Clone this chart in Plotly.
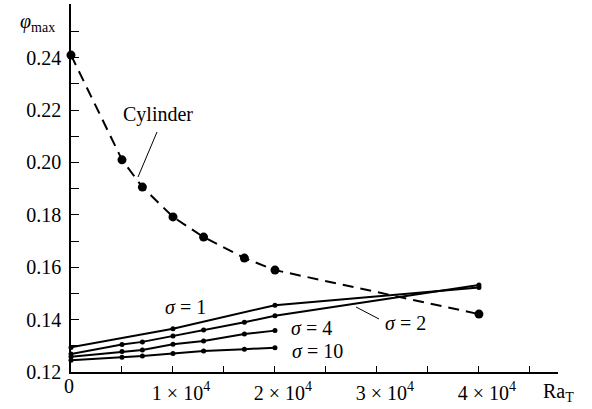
import plotly.graph_objects as go

# Data
ra_cyl = [0, 5000, 7000, 10000, 13000, 17000, 20000, 40000]
phi_cyl = [0.241, 0.201, 0.1906, 0.1792, 0.1715, 0.1635, 0.1589, 0.1421]

ra_s1 = [0, 10000, 20000, 40000]
phi_s1 = [0.1294, 0.1365, 0.1455, 0.1523]

ra_s = [0, 5000, 7000, 10000, 13000, 17000, 20000]
ra_s2 = ra_s + [40000]
phi_s2 = [0.1269, 0.1305, 0.1315, 0.1337, 0.1360, 0.1390, 0.1415, 0.1532]
phi_s4 = [0.1258, 0.1278, 0.1284, 0.1306, 0.1318, 0.1345, 0.1358]
phi_s10 = [0.1245, 0.1256, 0.1261, 0.1271, 0.1280, 0.1287, 0.1293]

x_ticks = [0, 5000, 10000, 15000, 20000, 25000, 30000, 35000, 40000, 45000]
x_labels = ["", "", "1 × 10<sup>4</sup>", "", "2 × 10<sup>4</sup>", "",
            "3 × 10<sup>4</sup>", "", "4 × 10<sup>4</sup>", ""]
y_ticks = [0.12, 0.13, 0.14, 0.15, 0.16, 0.17, 0.18, 0.19, 0.20, 0.21, 0.22, 0.23, 0.24, 0.25]
y_labels = ["0.12", "", "0.14", "", "0.16", "", "0.18", "", "0.20", "", "0.22", "", "0.24", ""]

FONT = "Liberation Serif, Times New Roman, serif"
FS = 20

W, H = 592, 409
L, R, T, B = 71, 34, 4, 37
PW, PH = W - L - R, H - T - B


def px(x):
    return (x - L) / PW


def py(y):
    return (H - B - y) / PH


fig = go.Figure()

fig.add_trace(go.Scatter(x=ra_cyl, y=phi_cyl, mode="lines+markers",
                         line=dict(color="black", width=2, dash="11px,7px"),
                         marker=dict(color="black", size=9), cliponaxis=False))
for xs, ys in [(ra_s1, phi_s1), (ra_s2, phi_s2), (ra_s, phi_s4), (ra_s, phi_s10)]:
    fig.add_trace(go.Scatter(x=xs, y=ys, mode="lines+markers",
                             line=dict(color="black", width=2),
                             marker=dict(color="black", size=5), cliponaxis=False))

fig.update_layout(
    width=W, height=H,
    margin=dict(l=L, r=R, t=T, b=B, autoexpand=False),
    plot_bgcolor="white", paper_bgcolor="white",
    showlegend=False,
    font=dict(family=FONT, size=FS, color="black"),
    xaxis=dict(range=[0, 47750], showline=True, linecolor="black", linewidth=1.5,
               showgrid=False, zeroline=False, ticks="inside", ticklen=6, tickwidth=1.2,
               tickcolor="black", tickvals=x_ticks, ticktext=x_labels, automargin=False,
               ticklabelshift=8, ticklabelstandoff=2,
               tickfont=dict(family=FONT, size=FS, color="black")),
    yaxis=dict(range=[0.12, 0.2605], showline=True, linecolor="black", linewidth=1.5,
               showgrid=False, zeroline=False, ticks="inside", ticklen=8, tickwidth=1.2,
               tickcolor="black", tickvals=y_ticks, ticktext=y_labels, automargin=False,
               ticklabelstandoff=4,
               tickfont=dict(family=FONT, size=FS, color="black")),
)

# "0" tick label on the x axis (unshifted)
fig.add_annotation(xref="x", yref="paper", x=0, y=py(386), text="0",
                   showarrow=False, xanchor="center", yanchor="middle", xshift=-2,
                   font=dict(family=FONT, size=FS, color="black"))

annos = [
    dict(x=158, y=115, text="Cylinder"),
    dict(x=185, y=307, text="<i>σ</i> = 1"),
    dict(x=311, y=328, text="<i>σ</i> = 4"),
    dict(x=317, y=351, text="<i>σ</i> = 10"),
    dict(x=405, y=323, text="<i>σ</i> = 2"),
    dict(x=37, y=22, text="<i>φ</i><sub>max</sub>"),
    dict(x=558, y=392, text="Ra<sub>T</sub>"),
]
for a in annos:
    fig.add_annotation(xref="paper", yref="paper",
                       x=px(a["x"]), y=py(a["y"]),
                       text=a["text"], showarrow=False,
                       xanchor="center", yanchor="middle",
                       font=dict(family=FONT, size=FS, color="black"))

# leader lines
for (x0, y0, x1, y1) in [(157, 132, 138, 177), (356, 307, 379, 319)]:
    fig.add_shape(type="line", xref="paper", yref="paper",
                  x0=px(x0), y0=py(y0), x1=px(x1), y1=py(y1),
                  line=dict(color="black", width=1))

fig.write_html("out.html", config={"displayModeBar": False},
               post_script="document.body.style.margin='0';")
